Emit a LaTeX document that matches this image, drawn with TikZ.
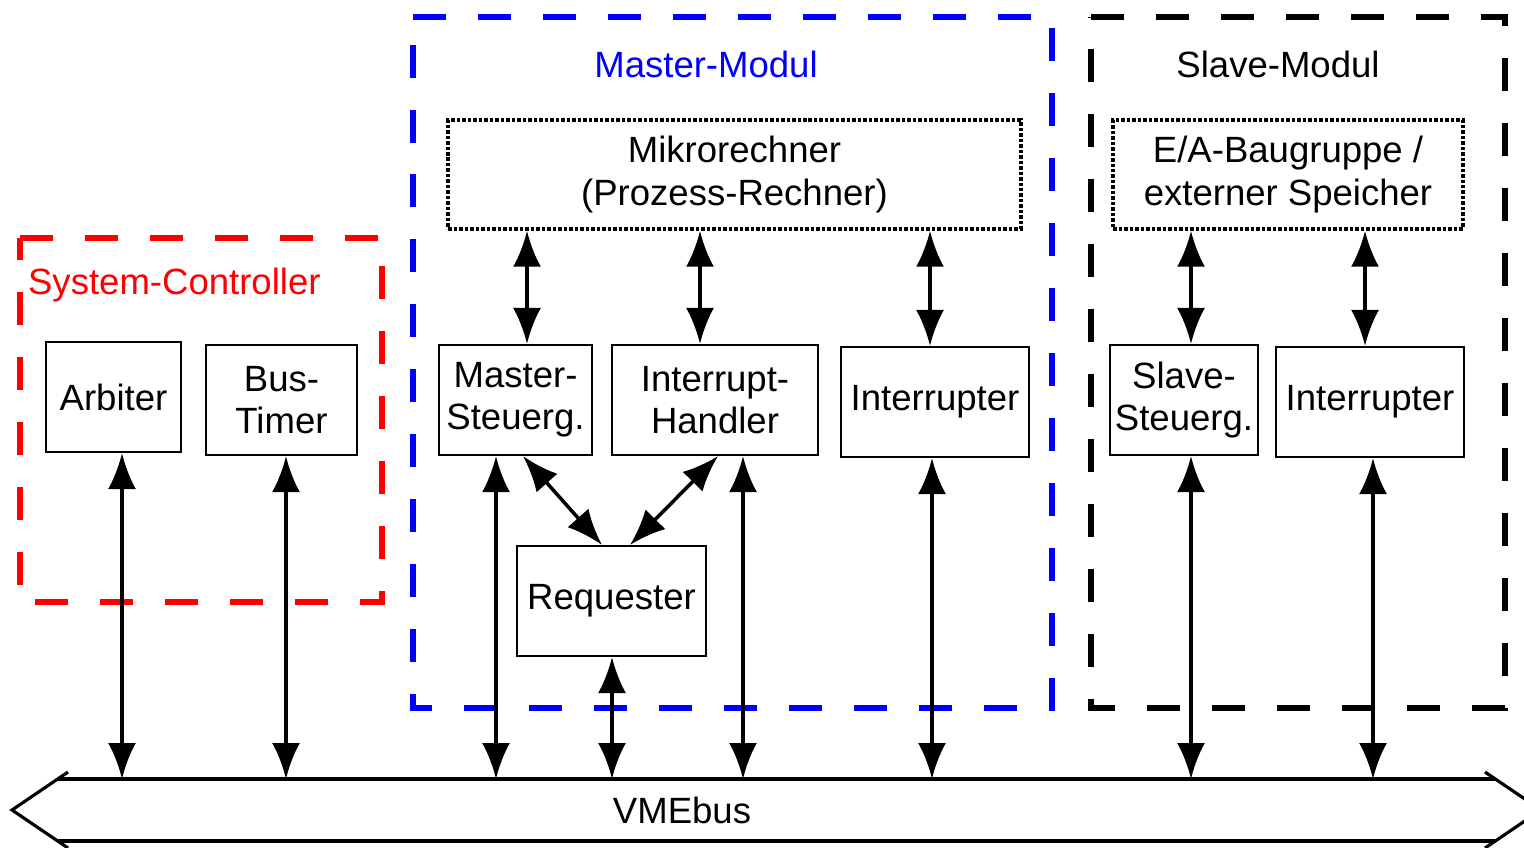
\documentclass[tikz,border=0pt]{standalone}
\usepackage{fontspec}
\setmainfont{Liberation Sans}
\usepackage{tikz}
\usetikzlibrary{arrows.meta,calc}

\begin{document}
\begin{tikzpicture}[x=0.02cm,y=-0.02cm,
    >={Latex[length=0.72cm,width=0.56cm]},
    every node/.style={font=\fontsize{20.8}{24}\selectfont},
    unit/.style={draw,line width=1.2pt,inner sep=1pt,align=center,minimum height=2.2cm},
    cpu/.style={draw,line width=2pt,dash pattern=on 0.07cm off 0.04cm,align=center,minimum height=2.18cm},
    group/.style={line width=3.4pt,dash pattern=on 0.66cm off 0.64cm},
    link/.style={<->,line width=2pt},
    bus/.style={line width=1.8pt}]
                \useasboundingbox (0,0) rectangle (1524,848);
                % Group frames
                \draw[group,red](20,238)--(382,238)--(382,602)--(20,602)--cycle;
                \draw[group,blue](413,17)--(1052,17)--(1052,708)--(413,708)--cycle;
                \draw[group,black](1091,17)--(1505,17)--(1505,708)--(1091,708)--cycle;
                \node[red,anchor=west,inner sep=1pt](sclabel) at (26,285){System-Controller};
                \node[blue](mmlabel) at (706,64){Master-Modul};
                \node(smlabel) at (1278,64){Slave-Modul};
                % Processor and I/O
                \node[cpu,minimum width=11.46cm](micro) at (734.5,174.5){Mikrorechner\\(Prozess-Rechner)};
                \node[cpu,minimum width=7cm](io) at (1288,174.5){E/A-Baugruppe /\\externer Speicher};
                % Units
                \node[unit,minimum width=2.7cm](arbiter) at (113.5,397){Arbiter};
                \node[unit,minimum width=3.02cm](bustimer) at (281.5,400){Bus-\\Timer};
                \node[unit,minimum width=3.06cm](masterctl) at (515.5,400){Master-\\Steuerg.};
                \node[unit,minimum width=4.12cm](irqhandler) at (715,400){Interrupt-\\Handler};
                \node[unit,minimum width=3.76cm](interrupter) at (935,402){Interrupter};
                \node[unit,minimum width=3.78cm](requester) at (611.5,601){Requester};
                \node[unit,minimum width=2.96cm](slavectl) at (1184,400){Slave-\\Steuerg.};
                \node[unit,minimum width=3.76cm](slaveirq) at (1370,402){Interrupter};
                % VMEbus
                \draw[bus](68,772)--(12,810)--(68,848);
                \draw[bus](1485,772)--(1541,810)--(1485,848);
                \draw[bus](58,779)--(1495,779);
                \draw[bus](58,841)--(1495,841);
                \node(vme) at (682,810){VMEbus};
                \coordinate(bustop) at (0,779);
                % Links
                \foreach \x/\a/\b in {527/micro/masterctl,700/micro/irqhandler,930/micro/interrupter,1191/io/slavectl,1365/io/slaveirq}
                    \draw[link](\x,0 |- \a.south)--(\x,0 |- \b.north);
                \foreach \x/\n in {122/arbiter,286/bustimer,496/masterctl,612/requester,743/irqhandler,932/interrupter,1191/slavectl,1373/slaveirq}
                    \draw[link](\x,0 |- bustop)--(\x,0 |- \n.south);
                \draw[link]([xshift=0.15cm]masterctl.south)--([xshift=-0.19cm]requester.north);
                \draw[link]([xshift=0.06cm]irqhandler.south)--([xshift=0.37cm]requester.north);
\end{tikzpicture}
\end{document}
